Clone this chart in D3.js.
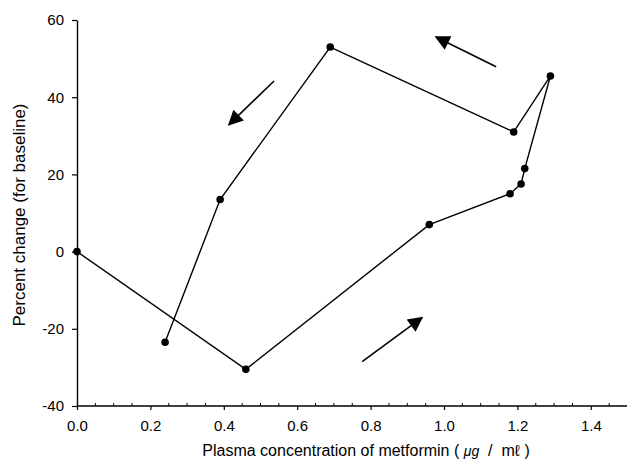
<!DOCTYPE html>
<html>
<head>
<meta charset="utf-8">
<script src="https://cdn.jsdelivr.net/npm/d3@7"></script>
<style>
  body { margin: 0; background: #fff; }
  svg { display: block; }
</style>
</head>
<body>
<script>
// plasma concentration (µg/ml) and percent change, in time order
const concentration = [0, 0.46, 0.96, 1.18, 1.21, 1.22, 1.29, 1.19, 0.69, 0.39, 0.24];
const percentChange = [0, -30.5, 7, 15, 17.5, 21.5, 45.5, 31, 53, 13.5, -23.5];

// direction arrows: [x0, y0, x1, y1] in data units
const arrows = [
  [0.777, -28.5, 0.94, -17.1],
  [1.142, 47.9, 0.978, 55.6],
  [0.537, 44.2, 0.414, 32.9]
];

const xTicks = [0, 0.2, 0.4, 0.6, 0.8, 1.0, 1.2, 1.4];
const yTicks = [-40, -20, 0, 20, 40, 60];

const width = 627, height = 467;
const font = "'Liberation Sans', Arial, sans-serif";

const x = d3.scaleLinear().domain([0, 1.5]).range([77, 627.5]);
const y = d3.scaleLinear().domain([-40, 60]).range([406, 20]);

const svg = d3.select("body").append("svg")
  .attr("width", width)
  .attr("height", height)
  .attr("font-family", font);

svg.append("defs").append("marker")
  .attr("id", "head")
  .attr("viewBox", "0 0 10 10")
  .attr("refX", 9)
  .attr("refY", 5)
  .attr("markerUnits", "userSpaceOnUse")
  .attr("markerWidth", 17)
  .attr("markerHeight", 15)
  .attr("orient", "auto")
  .append("path")
  .attr("d", "M0,0L10,5L0,10Z")
  .attr("fill", "#000");

// x axis: major ticks outside, minor ticks inside
const xAxis = svg.append("g")
  .attr("transform", `translate(0,${y(-40)})`)
  .call(d3.axisBottom(x).tickValues(xTicks).tickSize(4).tickPadding(10)
    .tickFormat(d => d.toFixed(1)));
xAxis.select(".domain").attr("d", `M${x(0)},0H${x(1.5)}`).attr("stroke-width", 1.4);
xAxis.selectAll(".tick line").attr("stroke-width", 1.2);
xAxis.selectAll("text").attr("font-size", 15).attr("font-family", font);

const minor = d3.range(0, 31).map(i => i * 0.05).filter(v => Math.round(v * 100) % 20 !== 0);
svg.append("g")
  .selectAll("line")
  .data(minor)
  .join("line")
  .attr("x1", d => x(d)).attr("x2", d => x(d))
  .attr("y1", y(-40)).attr("y2", y(-40) - 3)
  .attr("stroke", "#000");

const yAxis = svg.append("g")
  .attr("transform", `translate(${x(0)},0)`)
  .call(d3.axisLeft(y).tickValues(yTicks).tickSize(5).tickPadding(8).tickSizeOuter(0)
    .tickFormat(d => String(d)));
yAxis.select(".domain").attr("stroke-width", 1.4);
yAxis.selectAll(".tick line").attr("stroke-width", 1.2);
yAxis.selectAll("text").attr("font-size", 15).attr("font-family", font);

// data line and points
const pts = concentration.map((c, i) => [c, percentChange[i]]);
svg.append("path")
  .datum(pts)
  .attr("fill", "none")
  .attr("stroke", "#000")
  .attr("stroke-width", 1.4)
  .attr("d", d3.line().x(d => x(d[0])).y(d => y(d[1])));

svg.append("g")
  .selectAll("circle")
  .data(pts)
  .join("circle")
  .attr("cx", d => x(d[0]))
  .attr("cy", d => y(d[1]))
  .attr("r", 3.8)
  .attr("fill", "#000");

svg.append("g")
  .selectAll("line")
  .data(arrows)
  .join("line")
  .attr("x1", d => x(d[0])).attr("y1", d => y(d[1]))
  .attr("x2", d => x(d[2])).attr("y2", d => y(d[3]))
  .attr("stroke", "#000")
  .attr("stroke-width", 1.6)
  .attr("marker-end", "url(#head)");

// axis titles
const xTitle = svg.append("text")
  .attr("x", 366)
  .attr("y", 456)
  .attr("text-anchor", "middle")
  .attr("font-size", 16)
  .attr("xml:space", "preserve");
xTitle.append("tspan").text("Plasma concentration of metformin ( ");
xTitle.append("tspan").attr("font-style", "italic").attr("font-size", 14).text("μg");
xTitle.append("tspan").text("  /  mℓ )");

svg.append("text")
  .attr("transform", "translate(25,215) rotate(-90)")
  .attr("text-anchor", "middle")
  .attr("font-size", 17)
  .text("Percent change (for baseline)");
</script>
</body>
</html>
